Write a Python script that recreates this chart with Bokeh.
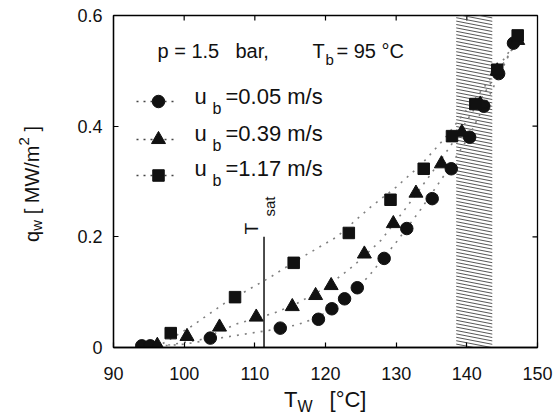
import numpy as np
from bokeh.plotting import figure
from bokeh.models import Range1d, FixedTicker, Label, Div
from bokeh.layouts import column, row
from bokeh.embed import file_html
from bokeh.resources import INLINE

# ---------------- data ----------------
x_ticks = [90, 100, 110, 120, 130, 140, 150]
y_ticks = [0, 0.2, 0.4, 0.6]
y_tick_labels = ["0", "0.2", "0.4", "0.6"]

circ_T = [94.0, 95.2, 103.7, 113.6, 119.0, 120.9, 122.7, 124.5, 128.3, 131.5, 135.1, 137.8, 140.4, 142.4, 144.5, 146.6]
circ_q = [0.003, 0.003, 0.017, 0.035, 0.051, 0.070, 0.088, 0.108, 0.161, 0.215, 0.269, 0.323, 0.380, 0.436, 0.495, 0.550]

tri_T = [96.2, 100.4, 105.0, 110.2, 115.3, 118.6, 120.8, 125.5, 129.6, 132.8, 136.4, 139.3, 141.9, 144.3, 147.2]
tri_q = [0.004, 0.020, 0.037, 0.055, 0.074, 0.094, 0.112, 0.169, 0.224, 0.279, 0.332, 0.389, 0.440, 0.500, 0.555]

sq_T = [98.1, 107.2, 115.5, 123.3, 129.2, 133.9, 137.9, 141.2, 144.3, 147.2]
sq_q = [0.026, 0.091, 0.153, 0.207, 0.267, 0.323, 0.382, 0.440, 0.502, 0.564]

# dotted fit curves
circ_fit_T = [94, 100, 106, 112, 116, 119, 122, 126, 130, 133.5, 137, 140, 143, 146, 147.5]
circ_fit_q = [0.0, 0.006, 0.019, 0.031, 0.041, 0.055, 0.080, 0.127, 0.190, 0.250, 0.315, 0.375, 0.450, 0.530, 0.565]
tri_fit_T = [95.5, 98, 102.3, 107.5, 112.7, 116, 120, 124, 127.8, 131.5, 135, 138, 141, 144, 147.5]
tri_fit_q = [0.0, 0.005, 0.014, 0.043, 0.062, 0.080, 0.108, 0.148, 0.193, 0.254, 0.315, 0.370, 0.430, 0.490, 0.560]
sq_fit_T = [96, 98, 101, 105.6, 108.9, 112.3, 116, 121.6, 126.4, 130, 133.5, 137, 140, 143, 146, 147.5]
sq_fit_q = [0.0, 0.015, 0.038, 0.079, 0.103, 0.128, 0.158, 0.200, 0.254, 0.290, 0.330, 0.380, 0.430, 0.480, 0.535, 0.565]

band_T = [138.5, 143.6]      # hatched region
T_sat = 111.3
T_sat_top = 0.2

series_labels = ["=0.05 m/s", " =0.39 m/s", " =1.17 m/s"]

# ---------------- layout helpers ----------------
FONT = "Liberation Sans"
INK = "#111111"
W, H = 560, 419
DIV_W = 50
FL, FR, FT, FB = 113, 537, 15, 347   # frame in page pixels
FRAME_W, FRAME_H = FR - FL, FB - FT
TOP_B = FT
LEFT_B = FL - DIV_W
RIGHT_B = W - FR
BOT_B = 40
FIG_H = TOP_B + FRAME_H + BOT_B


def tx(px):
    return 90 + (px - FL) * 60.0 / FRAME_W


def qy(py):
    return (FB - py) * 0.6 / FRAME_H


px_x = 60.0 / FRAME_W
px_y = 0.6 / FRAME_H

p = figure(frame_width=FRAME_W, frame_height=FRAME_H,
           x_range=Range1d(90, 150), y_range=Range1d(0, 0.6),
           output_backend="svg", toolbar_location=None,
           min_border_left=LEFT_B, min_border_right=RIGHT_B, min_border_top=TOP_B,
           min_border_bottom=BOT_B)
p.grid.visible = False
p.outline_line_color = "black"
p.outline_line_width = 1.3
p.background_fill_color = "white"
p.border_fill_color = "white"

xa = p.xaxis[0]
xa.ticker = FixedTicker(ticks=x_ticks)
ya = p.yaxis[0]
ya.ticker = FixedTicker(ticks=y_ticks)
ya.major_label_overrides = {t: s for t, s in zip(y_ticks, y_tick_labels)}
for ax in (xa, ya):
    ax.major_tick_in = 5
    ax.major_tick_out = 0
    ax.minor_tick_in = 0
    ax.minor_tick_out = 0
    ax.axis_line_color = "black"
    ax.axis_line_width = 1.3
    ax.major_tick_line_width = 1.2
    ax.major_label_text_font = FONT
    ax.major_label_text_font_size = "18px"
    ax.major_label_text_color = INK
xa.major_label_standoff = 19
ya.major_label_standoff = 11

# inward ticks on top and right frame edges
p.segment(x0=x_ticks[1:-1], y0=[0.6] * (len(x_ticks) - 2), x1=x_ticks[1:-1],
          y1=[0.6 - 5 * px_y] * (len(x_ticks) - 2), line_color="black", line_width=1.2)
p.segment(x0=[150] * (len(y_ticks) - 2), y0=y_ticks[1:-1], x1=[150 - 5 * px_x] * (len(y_ticks) - 2),
          y1=y_ticks[1:-1], line_color="black", line_width=1.2)

# hatched band: thin slanted lines, clipped by the frame
step = 3.4 * px_y
drop = 7 * px_y
ys = np.arange(0, 0.6 + drop + step, step)
p.multi_line(xs=[[band_T[0], band_T[1]] for _ in ys], ys=[[y, y - drop] for y in ys],
             line_color="#444444", line_width=0.9)

# T_sat line
p.segment(x0=[T_sat], y0=[0], x1=[T_sat], y1=[T_sat_top], line_color="black", line_width=1.4)

# fit curves
for fx, fy in ((circ_fit_T, circ_fit_q), (tri_fit_T, tri_fit_q), (sq_fit_T, sq_fit_q)):
    p.line(fx, fy, line_color="#808080", line_width=1.6, line_dash="2 6")

# data markers
p.scatter(circ_T, circ_q, marker="circle", size=12.5, fill_color=INK, line_color=INK)
p.scatter(tri_T, tri_q, marker="triangle", size=14, fill_color=INK, line_color=INK)
p.scatter(sq_T, sq_q, marker="square", size=11.5, fill_color=INK, line_color=INK)


def lab(text, px, py, size, angle=0.0, color=INK):
    p.add_layout(Label(x=tx(px), y=qy(py), text=text, text_font=FONT,
                       text_font_size=f"{size}px", text_color=color, angle=angle,
                       text_align="left", text_baseline="alphabetic"))


# legend (manual)
rows_marker_py = [101, 139, 175]
rows_text_py = [96, 133, 168]
markers = ["circle", "triangle", "square"]
msizes = [12.5, 14, 11.5]
for i in range(3):
    qrow = qy(rows_marker_py[i])
    p.line([tx(136), tx(178)], [qrow, qrow], line_color="#444444", line_width=1.5, line_dash="2 5")
    p.scatter([tx(158)], [qrow], marker=markers[i], size=msizes[i], fill_color=INK, line_color=INK)
    lab("u", 194, rows_text_py[i], 22)
    lab("b", 212, rows_text_py[i] + 12, 16)
    lab(series_labels[i], 225, rows_text_py[i], 22)

# condition text
lab("p = 1.5", 157, 50, 20)
lab("bar,", 235, 50, 20)
lab("T", 312, 50, 20)
lab("b", 325, 59, 15)
lab("= 95 \u00b0C", 336, 50, 20)

# T_sat label (rotated)
lab("T", 251, 234, 19, angle=np.pi / 2)
lab("sat", 269, 216, 15, angle=np.pi / 2)

# axis titles as HTML text (sub/superscripts)
ylab = Div(
    text=("<div style=\"position:absolute; left:22px; top:126px; writing-mode:vertical-rl; "
          "transform:rotate(180deg); font-family:'Liberation Sans'; font-size:20px; color:#111; "
          "white-space:nowrap; line-height:1;\">q<sub style=\"font-size:15px; line-height:0;\">w</sub>"
          " [ MW/m<sup style=\"font-size:15px; line-height:0;\">2</sup> ]</div>"),
    width=DIV_W, height=FIG_H, margin=0, styles={"position": "relative"})

xlab = Div(
    text=("<div style=\"position:absolute; left:284px; top:2px; font-family:'Liberation Sans'; "
          "font-size:22px; color:#111; white-space:nowrap; line-height:1;\">T<sub style=\"font-size:16px; "
          "line-height:0;\">W</sub><span style=\"margin-left:17px;\">[\u00b0C]</span></div>"),
    width=W, height=H - FIG_H, margin=0, styles={"position": "relative"})

layout = column(row(ylab, p, spacing=0), xlab, spacing=0)

open("out.html", "w").write(file_html(layout, INLINE))
